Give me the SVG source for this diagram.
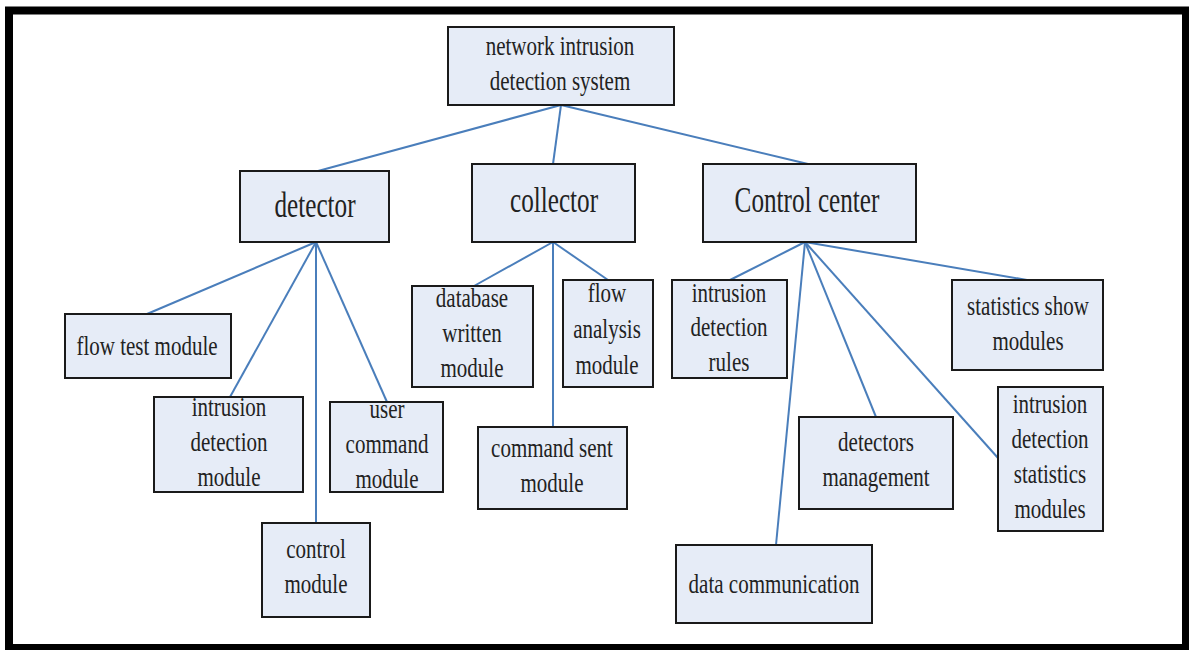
<svg xmlns="http://www.w3.org/2000/svg" width="1189" height="650" viewBox="0 0 1189 650">
<style>
.box{fill:#e6ecf7;stroke:#1a1a1a;stroke-width:2}
.t{font-family:"Liberation Serif","Times New Roman",serif;font-size:28px;fill:#222;text-anchor:middle}
.big{font-size:35px}
.c{stroke:#4a7ebb;stroke-width:2;fill:none}
</style>
<rect x="0" y="0" width="1189" height="650" fill="#fff"/>
<rect x="9" y="10.5" width="1177" height="637.5" fill="#fff" stroke="#000" stroke-width="8"/>
<g id="connectors">
<line class="c" x1="561" y1="105" x2="318" y2="171"/>
<line class="c" x1="561" y1="105" x2="553" y2="164"/>
<line class="c" x1="561" y1="105" x2="808" y2="164"/>
<line class="c" x1="316" y1="242" x2="147" y2="314"/>
<line class="c" x1="316" y1="242" x2="230" y2="397"/>
<line class="c" x1="316" y1="242" x2="316" y2="523"/>
<line class="c" x1="316" y1="242" x2="387" y2="402"/>
<line class="c" x1="553" y1="242" x2="474" y2="286"/>
<line class="c" x1="553" y1="242" x2="553" y2="427"/>
<line class="c" x1="553" y1="242" x2="608" y2="280"/>
<line class="c" x1="805" y1="242" x2="730" y2="280"/>
<line class="c" x1="805" y1="242" x2="776" y2="545"/>
<line class="c" x1="805" y1="242" x2="876" y2="417"/>
<line class="c" x1="805" y1="242" x2="998" y2="458"/>
<line class="c" x1="805" y1="242" x2="1027" y2="280"/>
</g>
<g id="root"><rect class="box" x="448" y="27" width="226" height="78"/>
<text class="t" transform="translate(560 0) scale(0.75 1)" y="55"><tspan x="0">network intrusion</tspan><tspan x="0" dy="35">detection system</tspan></text></g>
<g id="detector"><rect class="box" x="240" y="171" width="149" height="71"/>
<text class="t big" transform="translate(315 0) scale(0.72 1)" y="217"><tspan x="0">detector</tspan></text></g>
<g id="collector"><rect class="box" x="472" y="164" width="163" height="78"/>
<text class="t big" transform="translate(554 0) scale(0.72 1)" y="212"><tspan x="0">collector</tspan></text></g>
<g id="control-center"><rect class="box" x="703" y="164" width="213" height="78"/>
<text class="t big" transform="translate(807 0) scale(0.72 1)" y="212"><tspan x="0">Control center</tspan></text></g>
<g id="flow-test"><rect class="box" x="65" y="314" width="166" height="64"/>
<text class="t" transform="translate(147 0) scale(0.75 1)" y="355"><tspan x="0">flow test module</tspan></text></g>
<g id="intrusion-detection-module"><rect class="box" x="154" y="397" width="149" height="95"/>
<text class="t" transform="translate(229 0) scale(0.75 1)" y="416"><tspan x="0">intrusion</tspan><tspan x="0" dy="35">detection</tspan><tspan x="0" dy="35">module</tspan></text></g>
<g id="user-command"><rect class="box" x="330" y="402" width="113" height="90"/>
<text class="t" transform="translate(387 0) scale(0.75 1)" y="418"><tspan x="0">user</tspan><tspan x="0" dy="35">command</tspan><tspan x="0" dy="35">module</tspan></text></g>
<g id="control-module"><rect class="box" x="262" y="523" width="108" height="94"/>
<text class="t" transform="translate(316 0) scale(0.75 1)" y="558"><tspan x="0">control</tspan><tspan x="0" dy="35">module</tspan></text></g>
<g id="database-written"><rect class="box" x="412" y="286" width="121" height="101"/>
<text class="t" transform="translate(472 0) scale(0.75 1)" y="307"><tspan x="0">database</tspan><tspan x="0" dy="35">written</tspan><tspan x="0" dy="35">module</tspan></text></g>
<g id="flow-analysis"><rect class="box" x="563" y="280" width="90" height="107"/>
<text class="t" transform="translate(607 0) scale(0.75 1)" y="302"><tspan x="0">flow</tspan><tspan x="0" dy="36">analysis</tspan><tspan x="0" dy="36">module</tspan></text></g>
<g id="command-sent"><rect class="box" x="478" y="427" width="149" height="82"/>
<text class="t" transform="translate(552 0) scale(0.75 1)" y="457"><tspan x="0">command sent</tspan><tspan x="0" dy="35">module</tspan></text></g>
<g id="intrusion-detection-rules"><rect class="box" x="672" y="280" width="115" height="98"/>
<text class="t" transform="translate(729 0) scale(0.75 1)" y="302"><tspan x="0">intrusion</tspan><tspan x="0" dy="34">detection</tspan><tspan x="0" dy="35">rules</tspan></text></g>
<g id="statistics-show"><rect class="box" x="952" y="280" width="151" height="90"/>
<text class="t" transform="translate(1028 0) scale(0.75 1)" y="315"><tspan x="0">statistics show</tspan><tspan x="0" dy="35">modules</tspan></text></g>
<g id="detectors-management"><rect class="box" x="799" y="417" width="154" height="92"/>
<text class="t" transform="translate(876 0) scale(0.75 1)" y="451"><tspan x="0">detectors</tspan><tspan x="0" dy="35">management</tspan></text></g>
<g id="intrusion-detection-statistics"><rect class="box" x="998" y="387" width="105" height="144"/>
<text class="t" transform="translate(1050 0) scale(0.75 1)" y="413"><tspan x="0">intrusion</tspan><tspan x="0" dy="35">detection</tspan><tspan x="0" dy="35">statistics</tspan><tspan x="0" dy="35">modules</tspan></text></g>
<g id="data-communication"><rect class="box" x="676" y="545" width="196" height="78"/>
<text class="t" transform="translate(774 0) scale(0.75 1)" y="593"><tspan x="0">data communication</tspan></text></g>
</svg>
